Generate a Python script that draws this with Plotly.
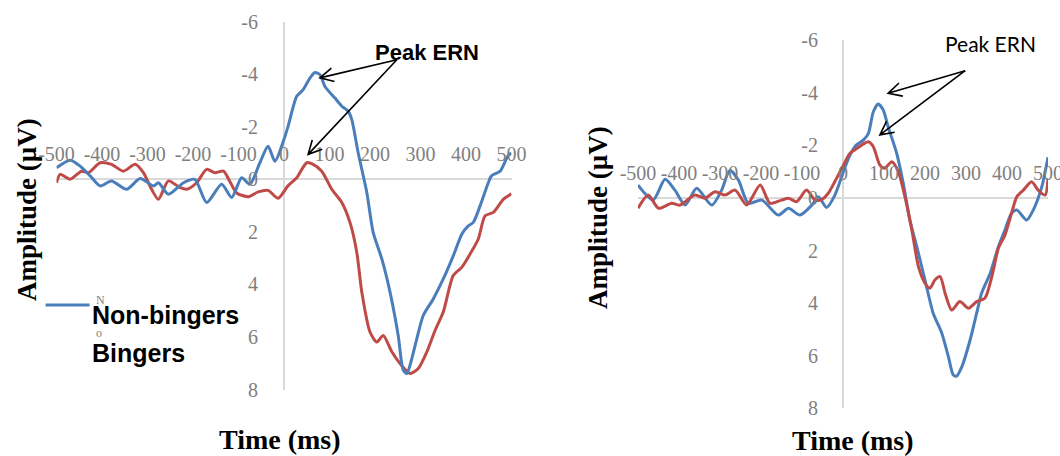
import math
import plotly.graph_objects as go

W, H = 1060, 456

# ---------------- data ----------------
# Left panel
time_nb_left = [-500, -470, -448, -426, -404, -379, -346, -316, -287, -276,
                -254, -221, -196, -170, -137, -115, -93, -75, -53, -35,
                -20, 0, 9, 28, 42, 57, 68, 79, 90, 112,
                127, 141, 149, 163, 182, 196, 215, 233, 251, 262,
                270, 277, 292, 306, 328, 350, 372, 391, 405, 416,
                431, 449, 456, 475, 492, 500]
amp_nb_left = [-0.44, -0.73, -0.50, -0.13, 0.25, 0.06, 0.38, -0.03, 0.25, 0.13,
               0.57, 0.13, 0.0, 0.88, 0.19, 0.69, -0.06, 0.19, -0.63, -1.26,
               -0.69, -1.52, -2.02, -3.16, -3.41, -3.85, -4.06, -3.98, -3.53, -3.09,
               -2.78, -2.59, -2.27, -1.01, 0.50, 2.02, 3.03, 4.29, 5.94, 7.26,
               7.39, 7.07, 6.06, 5.18, 4.55, 3.79, 2.91, 2.08, 1.77, 1.64,
               1.01, 0.13, -0.13, -0.31, -0.88, -1.0]

time_b_left = [-500, -492, -470, -445, -430, -404, -379, -353, -327, -309,
               -291, -276, -254, -229, -214, -192, -170, -152, -133, -119,
               -104, -78, -57, -35, -13, 9, 28, 50, 64, 83,
               105, 127, 145, 160, 171, 189, 204, 218, 237, 255,
               277, 295, 314, 332, 350, 372, 391, 409, 427, 442,
               460, 482, 500]
amp_b_left = [0.13, -0.19, 0.0, -0.31, -0.25, -0.63, -0.57, -0.31, -0.57, -0.25,
              0.38, 0.76, 0.06, 0.31, 0.38, 0.13, -0.38, -0.25, -0.31, 0.08,
              0.52, 0.66, 0.48, 0.42, 0.72, 0.24, -0.06, -0.63, -0.57, -0.31,
              0.38, 0.88, 1.64, 2.78, 4.29, 5.81, 6.19, 5.94, 6.56, 7.01,
              7.39, 7.20, 6.56, 5.75, 5.05, 3.66, 3.34, 2.84, 2.27, 1.39,
              1.26, 0.76, 0.55]

# Right panel
time_nb_right = [-500, -463, -434, -410, -385, -357, -320, -296, -276, -255,
                 -231, -198, -158, -133, -105, -76, -60, -40, -20, 1,
                 17, 33, 50, 62, 74, 86, 98, 110, 131, 147,
                 163, 180, 200, 220, 241, 257, 269, 277, 290, 310,
                 326, 338, 359, 379, 395, 411, 424, 448, 464, 485,
                 500]
amp_nb_right = [-0.49, 0.08, -0.71, -0.30, 0.27, -0.37, 0.27, -0.30, -1.05, -0.68,
                0.20, 0.08, 0.65, 0.39, 0.65, 0.27, -0.05, 0.36, -0.10, -1.0,
                -1.63, -2.02, -2.21, -2.46, -3.28, -3.57, -3.35, -2.71, -1.70, -0.56,
                0.84, 1.85, 3.12, 4.38, 5.14, 6.03, 6.73, 6.77, 6.41, 5.40,
                4.38, 3.62, 2.86, 1.85, 1.22, 0.58, 0.46, 0.84, 0.46, -0.43,
                -1.55]

time_b_right = [-500, -475, -450, -418, -398, -361, -337, -312, -288, -263,
                -235, -202, -178, -150, -133, -113, -89, -68, -52, -36,
                -20, 1, 17, 29, 46, 62, 74, 90, 102, 119,
                135, 151, 168, 184, 200, 212, 224, 237, 249, 265,
                285, 306, 326, 346, 363, 379, 395, 411, 424, 440,
                460, 476, 493, 500]
amp_b_right = [0.39, -0.11, 0.39, 0.20, 0.27, -0.11, 0.01, -0.24, -0.11, -0.30,
               0.27, -0.49, 0.20, 0.08, 0.01, 0.14, -0.30, 0.08, 0.06, -0.18,
               -0.62, -1.25, -1.70, -1.83, -2.02, -2.14, -1.95, -1.25, -1.13, -1.38,
               -1.00, -0.05, 1.22, 2.61, 3.24, 3.43, 3.12, 2.99, 3.62, 4.26,
               3.94, 4.19, 3.94, 3.81, 2.99, 1.91, 1.41, 0.58, -0.05, -0.30,
               -0.62, -0.30, -0.11, -0.75]

series_names = ["Non-bingers", "Bingers"]
x_tick_vals = [-500, -400, -300, -200, -100, 0, 100, 200, 300, 400, 500]
x_tick_text = ["-500", "-400", "-300", "-200", "-100", "0", "100", "200", "300", "400", "500"]
y_tick_vals = [-6, -4, -2, 0, 2, 4, 6, 8]
y_tick_text = ["-6", "-4", "-2", "0", "2", "4", "6", "8"]
x_title = "Time (ms)"
y_title = "Amplitude (µV)"
peak_label = "Peak ERN"
# arrows: (tail time, tail amp) -> (head time, head amp)
arrows_left = [((248, -4.55), (79, -3.86)), ((248, -4.55), (53, -0.95))]
arrows_right = [((298, -4.84), (110, -3.98)), ((298, -4.84), (90, -2.40))]

# ---------------- styling ----------------
BLUE = "#4A7EBB"
RED = "#BE4B48"
TICK_COLOR = "#7F7F7F"
AXIS_COLOR = "#D9D9D9"
SERIF = "Liberation Serif"
SANS = "Liberation Sans"


def px(x):
    return x / W


def py(y):
    return 1 - y / H


X_RANGE = [-500, 500]
Y_RANGE = [8, -6]

panels = {
    "left": dict(xdom=[56.5 / W, 511.5 / W], ydom=[1 - 389.6 / H, 1 - 21.6 / H],
                 font=20, xlen=10, ylen=22),
    "right": dict(xdom=[638 / W, 1048 / W], ydom=[1 - 408.4 / H, 1 - 40.2 / H],
                  font=20, xlen=10, ylen=21),
}


def data_to_pixel(panel, t, v):
    xd, yd = panel["xdom"], panel["ydom"]
    fx = xd[0] + (xd[1] - xd[0]) * (t - X_RANGE[0]) / (X_RANGE[1] - X_RANGE[0])
    fy = yd[0] + (yd[1] - yd[0]) * (Y_RANGE[0] - v) / (Y_RANGE[0] - Y_RANGE[1])
    return fx * W, (1 - fy) * H


fig = go.Figure()

line_kw = dict(width=3, shape="spline", smoothing=0.7)
fig.add_trace(go.Scatter(x=time_b_left, y=amp_b_left, mode="lines", name=series_names[1],
                         line=dict(color=RED, **line_kw), xaxis="x", yaxis="y", showlegend=False))
fig.add_trace(go.Scatter(x=time_nb_left, y=amp_nb_left, mode="lines", name=series_names[0],
                         line=dict(color=BLUE, **line_kw), xaxis="x", yaxis="y", showlegend=False))
fig.add_trace(go.Scatter(x=time_nb_right, y=amp_nb_right, mode="lines", name=series_names[0],
                         line=dict(color=BLUE, **line_kw), xaxis="x2", yaxis="y2", showlegend=False))
fig.add_trace(go.Scatter(x=time_b_right, y=amp_b_right, mode="lines", name=series_names[1],
                         line=dict(color=RED, **line_kw), xaxis="x2", yaxis="y2", showlegend=False))


def axis_pair(p):
    xd, yd = p["xdom"], p["ydom"]
    x_pos = yd[0] + (yd[1] - yd[0]) * (Y_RANGE[0] - 0) / (Y_RANGE[0] - Y_RANGE[1])
    y_pos = xd[0] + (xd[1] - xd[0]) * (0 - X_RANGE[0]) / (X_RANGE[1] - X_RANGE[0])
    tf = dict(family=SERIF, size=p["font"], color=TICK_COLOR)
    xa = dict(domain=xd, range=X_RANGE, anchor="free", position=x_pos, side="top",
              tickmode="array", tickvals=x_tick_vals, ticktext=x_tick_text, tickangle=0,
              ticks="outside", ticklen=p["xlen"], tickcolor="rgba(0,0,0,0)",
              ticklabeloverflow="allow",
              showgrid=False, showline=False, zeroline=True, zerolinecolor=AXIS_COLOR,
              zerolinewidth=1.5, tickfont=tf, fixedrange=True, automargin=False)
    ya = dict(domain=yd, range=Y_RANGE, anchor="free", position=y_pos, side="left",
              tickmode="array", tickvals=y_tick_vals, ticktext=y_tick_text,
              ticks="outside", ticklen=p["ylen"], tickcolor="rgba(0,0,0,0)",
              ticklabeloverflow="allow",
              showgrid=False, showline=False, zeroline=True, zerolinecolor=AXIS_COLOR,
              zerolinewidth=1.5, tickfont=tf, fixedrange=True, automargin=False)
    return xa, ya


xa1, ya1 = axis_pair(panels["left"])
xa2, ya2 = axis_pair(panels["right"])

annotations = []
title_font = dict(family=SERIF, size=28, color="black", weight="bold")
amp_font = dict(family=SERIF, size=27, color="black", weight="bold")
annotations += [
    dict(text=y_title, x=px(27), y=py(210), xref="paper", yref="paper", textangle=-90,
         showarrow=False, font=amp_font, xanchor="center", yanchor="middle"),
    dict(text=y_title, x=px(598), y=py(218), xref="paper", yref="paper", textangle=-90,
         showarrow=False, font=amp_font, xanchor="center", yanchor="middle"),
    dict(text=x_title, x=px(280), y=py(439), xref="paper", yref="paper",
         showarrow=False, font=title_font, xanchor="center", yanchor="middle"),
    dict(text=x_title, x=px(853), y=py(440), xref="paper", yref="paper",
         showarrow=False, font=title_font, xanchor="center", yanchor="middle"),
    dict(text=peak_label, x=px(427), y=py(52), xref="paper", yref="paper", showarrow=False,
         font=dict(family=SANS, size=22, color="black", weight="bold"),
         xanchor="center", yanchor="middle"),
    dict(text=peak_label, x=px(990), y=py(43), xref="paper", yref="paper", showarrow=False,
         font=dict(family="Lato", size=21, color="black"),
         xanchor="center", yanchor="middle"),
]

# arrows with open "V" heads
shapes = []
HEAD_LEN, HEAD_ANGLE = 15, math.radians(27)
for panel, arrows in ((panels["left"], arrows_left), (panels["right"], arrows_right)):
    for tail, head in arrows:
        tx, ty = data_to_pixel(panel, *tail)
        hx, hy = data_to_pixel(panel, *head)
        ang = math.atan2(ty - hy, tx - hx)
        a1 = (hx + HEAD_LEN * math.cos(ang + HEAD_ANGLE), hy + HEAD_LEN * math.sin(ang + HEAD_ANGLE))
        a2 = (hx + HEAD_LEN * math.cos(ang - HEAD_ANGLE), hy + HEAD_LEN * math.sin(ang - HEAD_ANGLE))
        path = (f"M {px(tx):.5f},{py(ty):.5f} L {px(hx):.5f},{py(hy):.5f} "
                f"M {px(a1[0]):.5f},{py(a1[1]):.5f} L {px(hx):.5f},{py(hy):.5f} "
                f"L {px(a2[0]):.5f},{py(a2[1]):.5f}")
        shapes.append(dict(type="path", xref="paper", yref="paper", path=path,
                           line=dict(color="black", width=1.6)))

# legend (drawn as in the reference: only the first key line is visible)
small = dict(family=SERIF, size=12, color=TICK_COLOR)
annotations += [
    dict(text="N", x=px(100), y=py(300), xref="paper", yref="paper", showarrow=False,
         font=small, xanchor="center", yanchor="middle"),
    dict(text="o", x=px(99), y=py(333), xref="paper", yref="paper", showarrow=False,
         font=small, xanchor="center", yanchor="middle"),
    dict(text=series_names[0], x=px(90), y=py(314.5), xref="paper", yref="paper",
         showarrow=False, font=dict(family=SANS, size=25, color="black", weight="bold"),
         xanchor="left", yanchor="middle"),
    dict(text=series_names[1], x=px(90), y=py(352.5), xref="paper", yref="paper",
         showarrow=False, font=dict(family=SANS, size=25, color="black", weight="bold"),
         xanchor="left", yanchor="middle"),
]
shapes.append(dict(type="line", xref="paper", yref="paper", x0=px(45.6), x1=px(89.5),
                   y0=py(305), y1=py(305), line=dict(color=BLUE, width=3)))

fig.update_layout(
    width=W, height=H, margin=dict(l=0, r=0, t=0, b=0, autoexpand=False),
    paper_bgcolor="white", plot_bgcolor="white",
    xaxis=xa1, yaxis=ya1, xaxis2=xa2, yaxis2=ya2,
    annotations=annotations, shapes=shapes, showlegend=False,
)

fig.write_html("out.html")
